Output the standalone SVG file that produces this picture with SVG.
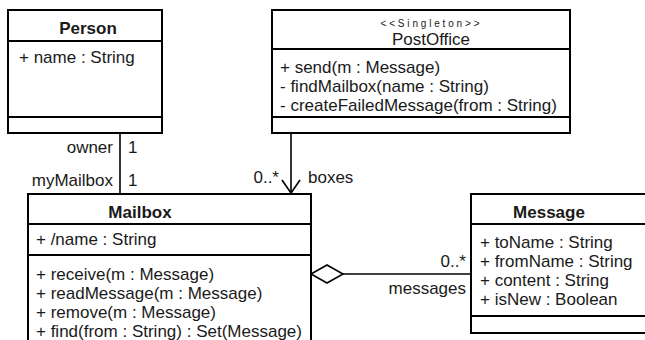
<svg xmlns="http://www.w3.org/2000/svg" width="645" height="340" viewBox="0 0 645 340">
  <style>
    .box { fill: #ffffff; stroke: #000000; stroke-width: 2; }
    .sep { stroke: #000000; stroke-width: 2; }
    .edge { fill: none; stroke: #000000; stroke-width: 1.6; }
    text { font-family: "Liberation Sans", Arial, sans-serif; font-size: 17px; fill: #1a1a1a; }
    .name { font-weight: bold; text-anchor: middle; }
    .title { text-anchor: middle; }
    .stereo { font-size: 10px; text-anchor: middle; }
    .end { text-anchor: end; }
  </style>
  <rect width="645" height="340" fill="#ffffff"/>

  <!-- associations -->
  <g id="connectors">
    <!-- Person 1 — 1 Mailbox -->
    <line class="edge" x1="120" y1="133" x2="120" y2="194"/>
    <text class="end" x="113" y="153">owner</text>
    <text x="128" y="153">1</text>
    <text class="end" x="113" y="186">myMailbox</text>
    <text x="128" y="186">1</text>

    <!-- PostOffice -> Mailbox (navigable) -->
    <line class="edge" x1="291" y1="133" x2="291" y2="193"/>
    <polyline class="edge" points="282,180 291,193 300,180"/>
    <text class="end" x="279" y="183">0..*</text>
    <text x="308" y="183">boxes</text>

    <!-- Mailbox <>— Message (aggregation) -->
    <line class="edge" x1="343" y1="274" x2="471" y2="274"/>
    <polygon class="edge" points="311,274 327,265 343,274 327,283" fill="#ffffff"/>
    <text class="end" x="466" y="267">0..*</text>
    <text class="end" x="466" y="294">messages</text>
  </g>

  <g id="Person">
    <rect class="box" x="8" y="10" width="154" height="123"/>
    <line class="sep" x1="8" y1="41" x2="162" y2="41"/>
    <line class="sep" x1="8" y1="117" x2="162" y2="117"/>
    <text class="name" x="88" y="34">Person</text>
    <text x="19" y="63">+ name : String</text>
  </g>

  <g id="PostOffice">
    <rect class="box" x="272" y="10" width="298" height="123"/>
    <line class="sep" x1="272" y1="49" x2="570" y2="49"/>
    <line class="sep" x1="272" y1="117" x2="570" y2="117"/>
    <text class="stereo" x="430" y="27" textLength="99">&lt;&lt;Singleton&gt;&gt;</text>
    <text class="title" x="431" y="45">PostOffice</text>
    <text x="280" y="73">+ send(m : Message)</text>
    <text x="280" y="92">- findMailbox(name : String)</text>
    <text x="280" y="111">- createFailedMessage(from : String)</text>
  </g>

  <g id="Mailbox">
    <rect class="box" x="28" y="194" width="283" height="160"/>
    <line class="sep" x1="28" y1="224" x2="311" y2="224"/>
    <line class="sep" x1="28" y1="255" x2="311" y2="255"/>
    <text class="name" x="140" y="218">Mailbox</text>
    <text x="36" y="245">+ /name : String</text>
    <text x="36" y="280">+ receive(m : Message)</text>
    <text x="36" y="299">+ readMessage(m : Message)</text>
    <text x="36" y="318">+ remove(m : Message)</text>
    <text x="36" y="337">+ find(from : String) : Set(Message)</text>
  </g>

  <g id="Message">
    <rect class="box" x="471" y="194" width="190" height="139"/>
    <line class="sep" x1="471" y1="224" x2="661" y2="224"/>
    <line class="sep" x1="471" y1="316" x2="661" y2="316"/>
    <text class="name" x="549" y="218">Message</text>
    <text x="480" y="248">+ toName : String</text>
    <text x="480" y="267">+ fromName : String</text>
    <text x="480" y="286">+ content : String</text>
    <text x="480" y="305">+ isNew : Boolean</text>
  </g>
</svg>
